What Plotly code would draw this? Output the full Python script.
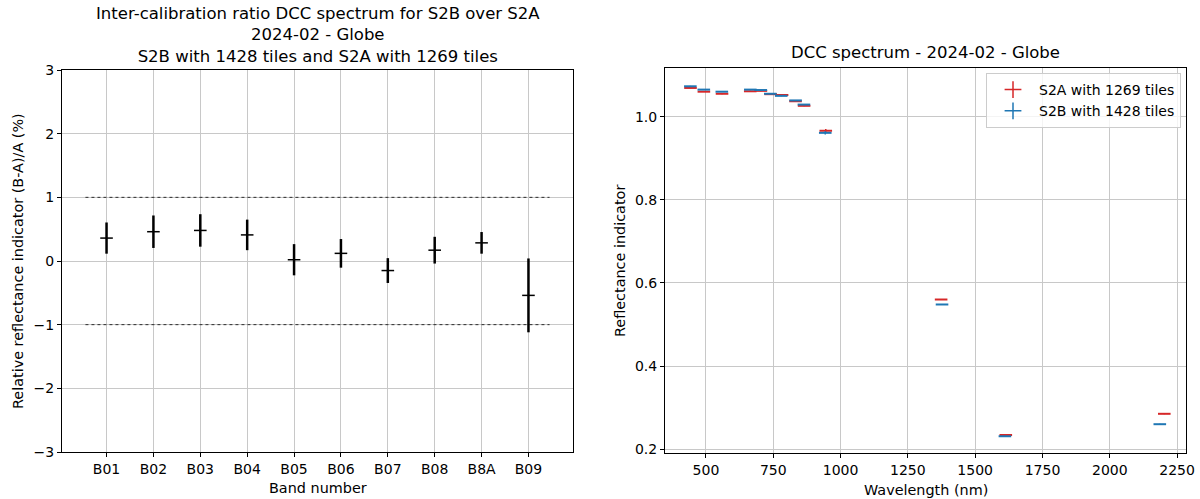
import plotly.graph_objects as go

# ---- Left panel data: inter-calibration ratio (%) ----
bands = ["B01", "B02", "B03", "B04", "B05", "B06", "B07", "B08", "B8A", "B09"]
ratio = [0.36, 0.46, 0.48, 0.41, 0.02, 0.12, -0.15, 0.17, 0.285, -0.54]
ratio_err = [0.245, 0.255, 0.255, 0.24, 0.245, 0.225, 0.195, 0.21, 0.17, 0.58]
limit_x = [-0.45, 9.45]
upper_limit = [1, 1]
lower_limit = [-1, -1]
left_yticks = [-3, -2, -1, 0, 1, 2, 3]
left_yticklabels = ["\u22123", "\u22122", "\u22121", "0", "1", "2", "3"]

# ---- Right panel data: DCC spectrum ----
wl_s2a = [442.7, 492.4, 559.8, 664.6, 704.1, 740.5, 782.8, 832.8, 864.7, 945.1, 1373.5, 1613.7, 2202.4]
wl_s2b = [442.2, 492.1, 559.0, 664.9, 703.8, 739.1, 779.7, 832.9, 864.0, 943.2, 1376.9, 1610.4, 2185.7]
refl_s2a = [1.069, 1.060, 1.055, 1.061, 1.062, 1.054, 1.052, 1.037, 1.026, 0.966, 0.560, 0.234, 0.285]
refl_s2b = [1.073, 1.065, 1.060, 1.065, 1.064, 1.055, 1.050, 1.039, 1.029, 0.961, 0.548, 0.231, 0.260]
err_s2a = [0.001, 0.001, 0.001, 0.001, 0.001, 0.001, 0.001, 0.001, 0.001, 0.004, 0.001, 0.001, 0.001]
err_s2b = [0.001, 0.001, 0.001, 0.001, 0.001, 0.001, 0.001, 0.001, 0.001, 0.004, 0.001, 0.001, 0.001]
right_xticks = [500, 750, 1000, 1250, 1500, 1750, 2000, 2250]
right_yticks = [0.2, 0.4, 0.6, 0.8, 1.0]

left_title_lines = [
    "Inter-calibration ratio DCC spectrum for S2B over S2A",
    "2024-02 - Globe",
    "S2B with 1428 tiles and S2A with 1269 tiles",
]
right_title = "DCC spectrum - 2024-02 - Globe"

RED = "#d62728"
BLUE = "#1f77b4"
FONT = "DejaVu Sans"
GRID = "#c8c8c8"
TICK = 14
LABEL = 14.4
TITLE = 16.5

fig = go.Figure()

# Left panel
fig.add_trace(go.Scatter(
    x=limit_x, y=upper_limit, mode="lines", xaxis="x", yaxis="y",
    line=dict(color="black", width=0.8, dash="dot"), showlegend=False, hoverinfo="skip"))
fig.add_trace(go.Scatter(
    x=limit_x, y=lower_limit, mode="lines", xaxis="x", yaxis="y",
    line=dict(color="black", width=0.8, dash="dot"), showlegend=False, hoverinfo="skip"))
fig.add_trace(go.Scatter(
    x=list(range(len(bands))), y=ratio, mode="markers", xaxis="x", yaxis="y",
    error_y=dict(type="data", array=ratio_err, color="black", thickness=2.5, width=0),
    marker=dict(symbol="line-ew", size=9, color="black", line=dict(color="black", width=1.5)),
    showlegend=False))

# Right panel
fig.add_trace(go.Scatter(
    x=wl_s2a, y=refl_s2a, mode="markers", xaxis="x2", yaxis="y2",
    error_y=dict(type="data", array=err_s2a, color=RED, thickness=1.5, width=0),
    marker=dict(symbol="line-ew", size=9, color=RED, line=dict(color=RED, width=2)),
    showlegend=False))
fig.add_trace(go.Scatter(
    x=wl_s2b, y=refl_s2b, mode="markers", xaxis="x2", yaxis="y2",
    error_y=dict(type="data", array=err_s2b, color=BLUE, thickness=1.5, width=0),
    marker=dict(symbol="line-ew", size=9, color=BLUE, line=dict(color=BLUE, width=2)),
    showlegend=False))
# legend entries (matplotlib-like '+' errorbar glyph)
fig.add_trace(go.Scatter(
    x=[None], y=[None], mode="markers", xaxis="x2", yaxis="y2", name="S2A with 1269 tiles",
    marker=dict(symbol="cross-thin", size=12, color=RED, line=dict(color=RED, width=1.5))))
fig.add_trace(go.Scatter(
    x=[None], y=[None], mode="markers", xaxis="x2", yaxis="y2", name="S2B with 1428 tiles",
    marker=dict(symbol="cross-thin", size=12, color=BLUE, line=dict(color=BLUE, width=1.5))))

axis_common = dict(
    showline=True, linecolor="black", linewidth=1, mirror=True,
    ticks="outside", ticklen=4, tickcolor="black", tickwidth=1,
    showgrid=True, gridcolor=GRID, gridwidth=1, zeroline=False,
    tickfont=dict(family=FONT, size=TICK, color="black"),
    automargin=False,
)

H = 499.0
W = 1200.0

def ann(text, x, y, size, angle=0):
    return dict(text=text, xref="paper", yref="paper", x=x / W, y=1 - y / H,
                xanchor="center", yanchor="middle", showarrow=False, textangle=angle,
                align="center", font=dict(family=FONT, size=size, color="black"))

fig.update_layout(
    width=1200, height=499,
    margin=dict(l=0, r=0, t=0, b=0, pad=0),
    paper_bgcolor="white", plot_bgcolor="white",
    font=dict(family=FONT, size=TICK, color="black"),
    xaxis=dict(domain=[62 / W, 573 / W], range=[-0.95, 9.95],
               tickmode="array", tickvals=list(range(len(bands))), ticktext=bands,
               anchor="y", **axis_common),
    yaxis=dict(domain=[1 - 452 / H, 1 - 70 / H], range=[-3, 3],
               tickmode="array", tickvals=left_yticks, ticktext=left_yticklabels,
               anchor="x", **axis_common),
    xaxis2=dict(domain=[665 / W, 1186 / W], range=[348, 2283],
                tickmode="array", tickvals=right_xticks,
                anchor="y2", **axis_common),
    yaxis2=dict(domain=[1 - 453 / H, 1 - 68 / H], range=[0.1907, 1.117],
                tickmode="array", tickvals=right_yticks, ticktext=["0.2", "0.4", "0.6", "0.8", "1.0"],
                anchor="x2", **axis_common),
    legend=dict(x=1181 / W, y=1 - 73 / H, xanchor="right", yanchor="top",
                bgcolor="rgba(255,255,255,0.8)", bordercolor="#cccccc", borderwidth=1,
                font=dict(family=FONT, size=TICK, color="black"), itemwidth=42,
                tracegroupgap=0),
    annotations=[
        ann("<br>".join(left_title_lines), 318, 35, TITLE),
        ann(right_title, 925.5, 52, TITLE),
        ann("Band number", 318, 488, LABEL),
        ann("Wavelength (nm)", 925.5, 490, LABEL),
        ann("Relative reflectance indicator (B-A)/A (%)", 18, 261, LABEL, -90),
        ann("Reflectance indicator", 620, 261, LABEL, -90),
    ],
)

fig.write_html(
    "out.html",
    config={"displayModeBar": False},
    post_script="document.body.style.margin='0px';document.body.style.padding='0px';"
                "document.body.style.overflow='hidden';",
)
